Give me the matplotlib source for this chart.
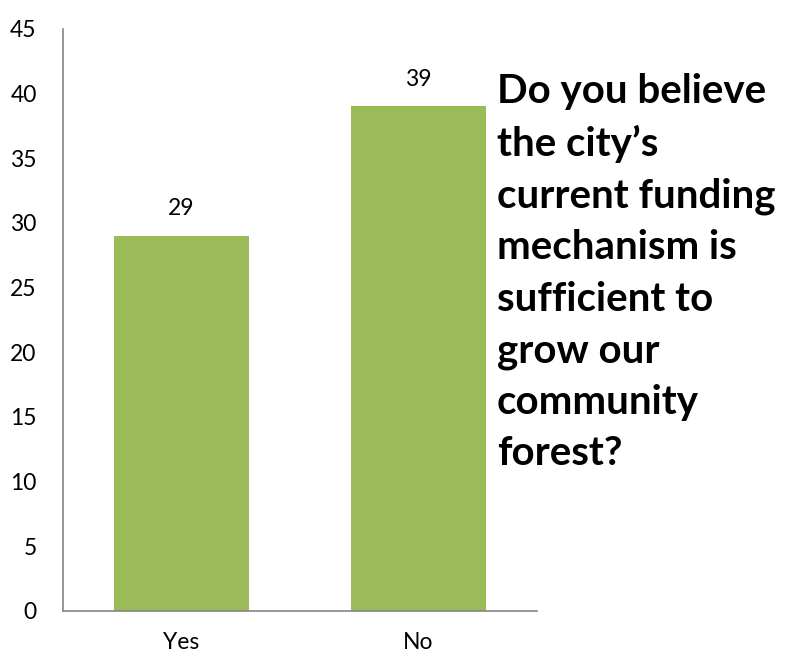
import matplotlib
matplotlib.use('Agg')
import matplotlib.pyplot as plt

# respuestas de la encuesta
categories = ['Yes', 'No']
counts = [29, 39]
y_ticks = [0, 5, 10, 15, 20, 25, 30, 35, 40, 45]
question = ("Do you believe\nthe city\u2019s\ncurrent funding\nmechanism is\n"
            "sufficient to\ngrow our\ncommunity\nforest?")

plt.rcParams['font.family'] = ['Lato', 'DejaVu Sans']

fig = plt.figure(figsize=(7.88, 6.56), dpi=100)
ax = fig.add_axes([0.080, 0.0686, 0.601, 0.8874])

bars = ax.bar(range(len(categories)), counts, width=0.57, color='#9BBB59')
ax.set_xlim(-0.5, len(categories) - 0.5)
ax.set_ylim(0, 45)
ax.set_yticks(y_ticks)
ax.set_xticks(range(len(categories)))
ax.set_xticklabels(categories)
ax.tick_params(axis='both', length=0, labelsize=16.5)
ax.tick_params(axis='y', pad=19)
ax.tick_params(axis='x', pad=15)

for s in ['top', 'right']:
    ax.spines[s].set_visible(False)
for s in ['left', 'bottom']:
    ax.spines[s].set_color('#868686')
    ax.spines[s].set_linewidth(1.2)

# etiquetas con el valor encima de cada barra
for b, v in zip(bars, counts):
    ax.annotate(str(v), (b.get_x() + b.get_width() / 2, v), xytext=(0, 12),
                textcoords='offset points', ha='center', va='bottom', fontsize=16.5)

fig.text(497 / 788, 1 - 73 / 656, question, ha='left', va='top', fontsize=29,
         fontweight='bold', linespacing=1.48)

plt.savefig('out.png', dpi=100)
plt.close()
